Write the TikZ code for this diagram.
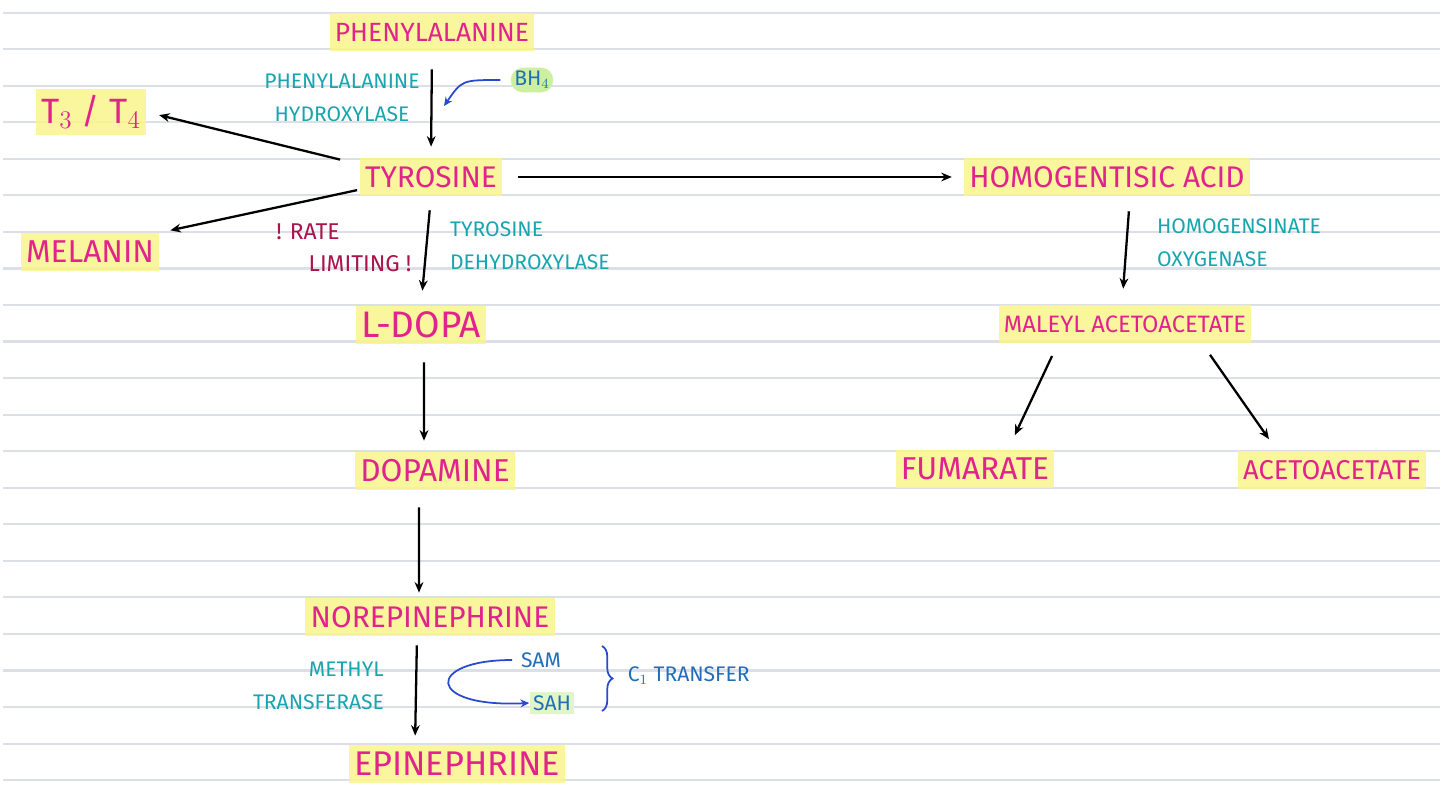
\documentclass[tikz,border=0pt]{standalone}
\usepackage{fontspec}
\setmainfont{Fira Sans}
\usetikzlibrary{arrows.meta,decorations.pathreplacing}
\definecolor{chempink}{RGB}{225,35,140}
\definecolor{hlyellow}{RGB}{250,245,140}
\definecolor{enzteal}{RGB}{25,165,175}
\definecolor{ratered}{RGB}{170,20,75}
\definecolor{cofblue}{RGB}{35,110,185}
\definecolor{curveblue}{RGB}{40,75,205}
\definecolor{bhgreen}{RGB}{205,240,160}
\definecolor{rulegray}{RGB}{220,223,230}

\begin{document}
\begin{tikzpicture}[x=0.02cm,y=-0.02cm,
    chem/.style={fill=hlyellow,fill opacity=0.85,text opacity=1,text=chempink,
      font=\fontsize{17}{20}\selectfont,inner xsep=3pt,minimum height=0.76cm},
    enzyme/.style={text=enzteal,font=\fontsize{12}{19}\selectfont,inner sep=1pt},
    ratelbl/.style={text=ratered,font=\fontsize{13}{16}\selectfont,inner sep=1pt},
    cofactor/.style={text=cofblue,font=\fontsize{12}{16}\selectfont,inner sep=2pt},
    react/.style={line width=1.3pt,-{Stealth[length=6pt,width=5pt]}},
    bluecurve/.style={curveblue,line width=1pt,-{Stealth[length=5pt,width=4.5pt]}},
    rule/.style={rulegray,line width=1.2pt}]
        \useasboundingbox (0,0) rectangle (1440,797);
        \fill[white] (0,0) rectangle (1440,797);
        % ruled paper
        \foreach \k in {0,...,21}
            \draw[rule] (3,{12.6+36.55*\k}) -- (1440,{12.6+36.55*\k});
        % compounds
        \node[chem,font=\fontsize{15}{18}\selectfont] (phe) at (432,32) {PHENYLALANINE};
        \node[chem,font=\fontsize{20}{22}\selectfont] (ttt) at (91,112) {T$_3$ / T$_4$};
        \node[chem] (tyr) at (431,177) {TYROSINE};
        \node[chem,font=\fontsize{18}{20}\selectfont] (mel) at (90,252) {MELANIN};
        \node[chem,font=\fontsize{21}{22}\selectfont] (dopa) at (421,325) {L-DOPA};
        \node[chem,font=\fontsize{18}{20}\selectfont] (dopamine) at (435,471) {DOPAMINE};
        \node[chem] (norepi) at (430,617) {NOREPINEPHRINE};
        \node[chem,font=\fontsize{19.5}{22}\selectfont] (epi) at (457,764) {EPINEPHRINE};
        \node[chem] (hga) at (1107,177) {HOMOGENTISIC ACID};
        \node[chem,font=\fontsize{13.5}{18}\selectfont] (maa) at (1125,324) {MALEYL ACETOACETATE};
        \node[chem,font=\fontsize{18}{20}\selectfont] (fum) at (975,469) {FUMARATE};
        \node[chem,font=\fontsize{15.5}{18}\selectfont] (aca) at (1332,470) {ACETOACETATE};
        % enzymes and notes
        \node[enzyme,align=center] (pah) at (342,98) {PHENYLALANINE\\HYDROXYLASE};
        \node[cofactor,fill=bhgreen,rounded corners=7pt] (bhfour) at (532,80) {BH$_4$};
        \node[enzyme,align=left,anchor=west] (th) at (448,246) {TYROSINE\\DEHYDROXYLASE};
        \node[ratelbl] (ratea) at (308,232) {! RATE};
        \node[ratelbl] (rateb) at (360,264) {LIMITING !};
        \node[enzyme,align=left,anchor=west] (hgd) at (1155,243) {HOMOGENSINATE\\OXYGENASE};
        \node[enzyme,align=right,anchor=east] (mt) at (386,686) {METHYL\\TRANSFERASE};
        \node[cofactor] (sam) at (541,660) {SAM};
        \node[cofactor,fill=bhgreen!60] (sah) at (552,703) {SAH};
        \node[cofactor,anchor=west] (ctr) at (624,676) {C$_1$ TRANSFER};
        % reactions
        \draw[react,shorten <=0.36cm,shorten >=0.22cm] (phe.south) -- (tyr.north);
        \draw[react,shorten <=0.4cm,shorten >=0.26cm] (tyr.170) -- (ttt.east);
        \draw[react,shorten <=0.05cm,shorten >=0.22cm] (tyr.190) -- (mel.north east);
        \draw[react,shorten <=0.28cm,shorten >=0.3cm] (tyr.south) -- (dopa.north);
        \draw[react,shorten <=0.36cm,shorten >=0.22cm] ([xshift=0.06cm]dopa.south) -- ([xshift=-0.22cm]dopamine.north);
        \draw[react,shorten <=0.34cm,shorten >=0.1cm] ([xshift=-0.32cm]dopamine.south) -- ([xshift=-0.22cm]norepi.north);
        \draw[react,shorten <=0.18cm,shorten >=0.18cm] ([xshift=-0.26cm]norepi.south) -- ([xshift=-0.84cm]epi.north);
        \draw[react,shorten <=0.3cm,shorten >=0.24cm] (tyr.east) -- (hga.west);
        \draw[react,shorten <=0.3cm,shorten >=0.32cm] ([xshift=0.46cm]hga.south) -- ([xshift=-0.06cm]maa.north);
        \draw[react,shorten <=0.28cm,shorten >=0.32cm] ([xshift=-1.34cm]maa.south) -- ([xshift=0.66cm]fum.north);
        \draw[react,shorten <=0.28cm,shorten >=0.28cm] ([xshift=1.54cm]maa.south) -- ([xshift=-1.1cm]aca.north);
        % cofactors
        \coordinate (bhtip) at (444,106);
        \draw[bluecurve,shorten <=0.2cm] (bhfour.west) .. controls (462,80) .. (bhtip);
        \draw[bluecurve,shorten <=0.1cm] (sam.west) .. controls (425,660) and (425,708) .. (sah.west);
        \draw[curveblue,line width=1pt,decorate,decoration={brace,amplitude=6pt}] (602,646) -- (602,711);
\end{tikzpicture}
\end{document}
